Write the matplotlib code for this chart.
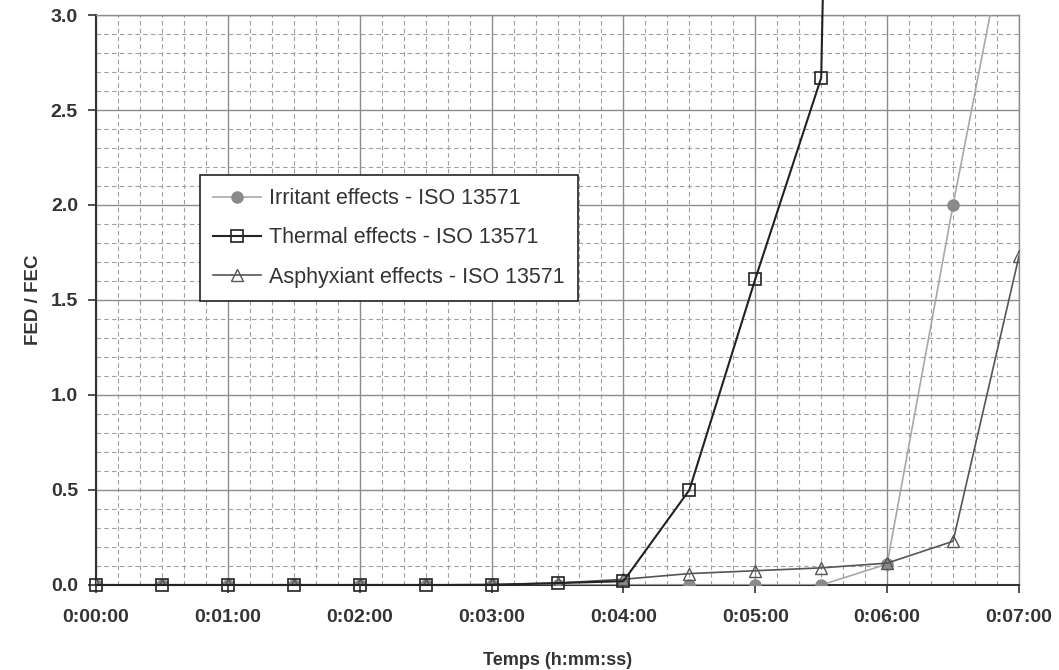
import matplotlib.pyplot as plt
import numpy as np
from matplotlib.ticker import MultipleLocator, FuncFormatter

plt.rcParams["font.family"] = ["Liberation Sans", "DejaVu Sans"]

# temps en secondes (un point toutes les 30 s)
TIMES = [0, 30, 60, 90, 120, 150, 180, 210, 240, 270, 300, 330, 360, 390, 420]

IRRITANT = [0, 0, 0, 0, 0, 0, 0, 0, 0, 0, 0, 0, 0.11, 2.0, 3.78]
THERMAL = [0, 0, 0, 0, 0, 0, 0, 0.01, 0.02, 0.5, 1.61, 2.67, 20.0]
ASPHYXIANT = [0, 0, 0, 0, 0, 0, 0.003, 0.01, 0.03, 0.06, 0.075, 0.09, 0.115, 0.23, 1.73]

LABELS = [
    "Irritant effects - ISO 13571",
    "Thermal effects - ISO 13571",
    "Asphyxiant effects - ISO 13571",
]


def hms(x, pos):
    x = int(round(x))
    return "%d:%02d:%02d" % (x // 3600, (x % 3600) // 60, x % 60)


def main():
    fig = plt.figure(figsize=(10.59, 6.70), dpi=100)
    ax = fig.add_axes([0.0907, 0.1269, 0.8715, 0.8507])

    ax.plot(
        TIMES[:len(IRRITANT)], IRRITANT,
        color="#a8a8a8", lw=1.2, marker="o", ms=8,
        mfc="#8a8a8a", mec="#8a8a8a", label=LABELS[0], zorder=3,
    )
    ax.plot(
        TIMES[:len(THERMAL)], THERMAL,
        color="#222222", lw=1.5, marker="s", ms=8,
        mfc="none", mec="#222222", mew=1.2, label=LABELS[1],
        zorder=4, clip_on=False,
    )
    ax.plot(
        TIMES[:len(ASPHYXIANT)], ASPHYXIANT,
        color="#555555", lw=1.2, marker="^", ms=8,
        mfc="none", mec="#555555", mew=1.0, label=LABELS[2], zorder=3,
    )

    ax.set_xlim(0, 420)
    ax.set_ylim(0, 3.0)

    ax.xaxis.set_major_locator(MultipleLocator(60))
    ax.xaxis.set_minor_locator(MultipleLocator(10))
    ax.xaxis.set_major_formatter(FuncFormatter(hms))
    ax.yaxis.set_major_locator(MultipleLocator(0.5))
    ax.yaxis.set_minor_locator(MultipleLocator(0.1))
    ax.yaxis.set_major_formatter(FuncFormatter(lambda v, p: "%.1f" % v))

    ax.grid(which="major", color="#8c8c8c", lw=1.0, ls="-")
    ax.grid(which="minor", color="#a0a0a0", lw=0.8, ls=(0, (4, 3)))
    ax.set_axisbelow(True)

    ax.tick_params(which="major", direction="out", length=6, width=1.2,
                   color="#333333", labelsize=14, labelcolor="#333333")
    ax.tick_params(axis="x", which="major", pad=11)
    ax.tick_params(axis="y", which="major", pad=7)
    ax.tick_params(which="minor", length=0)
    for lab in ax.get_xticklabels() + ax.get_yticklabels():
        lab.set_fontweight("bold")

    for side in ["left", "bottom"]:
        ax.spines[side].set_color("#333333")
        ax.spines[side].set_linewidth(1.5)
    for side in ["top", "right"]:
        ax.spines[side].set_color("#8c8c8c")
        ax.spines[side].set_linewidth(1.0)

    ax.set_xlabel("Temps (h:mm:ss)", fontsize=13, fontweight="bold",
                  color="#333333", labelpad=19)
    ax.set_ylabel("FED / FEC", fontsize=13.5, fontweight="bold",
                  color="#333333", labelpad=6)

    leg = ax.legend(
        loc="upper left", bbox_to_anchor=(0.113, 0.719),
        fontsize=15.5, frameon=True, fancybox=False, framealpha=1,
        borderpad=0.6, labelspacing=0.85, handlelength=2.2,
        handletextpad=0.4, borderaxespad=0,
    )
    leg.get_frame().set_edgecolor("#222222")
    leg.get_frame().set_linewidth(1.2)
    for t in leg.get_texts():
        t.set_color("#333333")
    leg.set_zorder(10)

    fig.savefig("out.png", dpi=100)


if __name__ == "__main__":
    main()
